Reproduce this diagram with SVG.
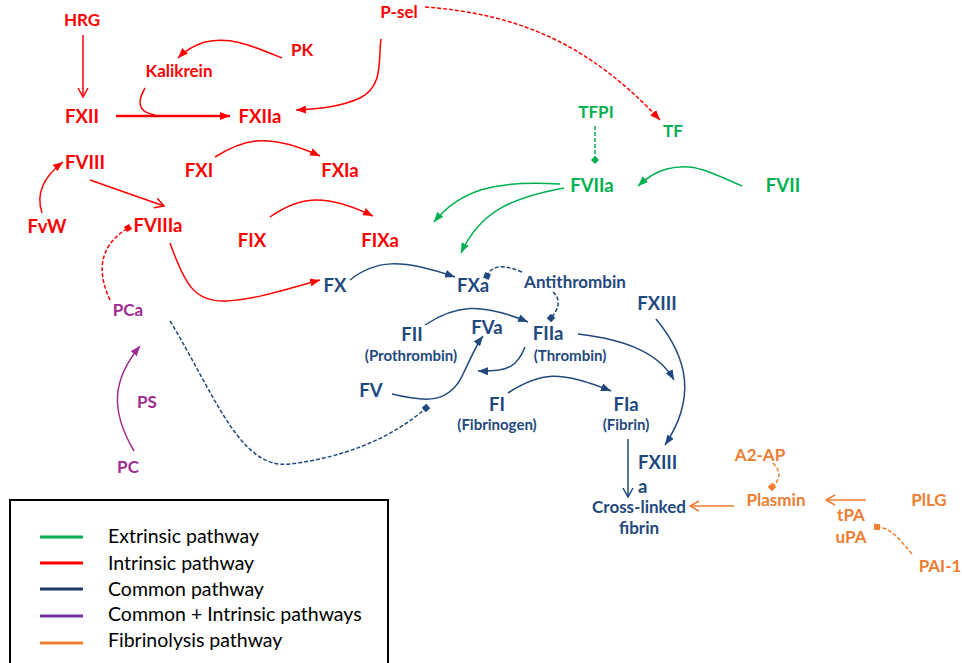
<svg xmlns="http://www.w3.org/2000/svg" width="962" height="663" viewBox="0 0 962 663">
<style>
text{font-family:Lato,"Liberation Sans",sans-serif;font-weight:bold;text-anchor:middle}
.r{fill:#FF0000}.g{fill:#00B050}.b{fill:#1F497D}.p{fill:#A02B93}.o{fill:#ED7D31}
.m{font-size:18.5px}.s{font-size:17px}.t{font-size:15px}
.lr{stroke:#FF0000}.lg{stroke:#00B050}.lb{stroke:#1F497D}.lp{stroke:#A02B93}.lo{stroke:#ED7D31}
#connectors path,#connectors line{fill:none;stroke-width:1.5}
.d{stroke-dasharray:4 2}
.leg text{font-weight:normal;text-anchor:start;font-size:19.5px;fill:#000}
.leg line{stroke-width:3}
</style>
<defs>
<marker id="ar" markerUnits="userSpaceOnUse" markerWidth="10" markerHeight="8" refX="10" refY="4" orient="auto"><path d="M0,0L10,4L0,8z" fill="#FF0000"/></marker>
<marker id="ag" markerUnits="userSpaceOnUse" markerWidth="10" markerHeight="8" refX="10" refY="4" orient="auto"><path d="M0,0L10,4L0,8z" fill="#00B050"/></marker>
<marker id="ab" markerUnits="userSpaceOnUse" markerWidth="10" markerHeight="8" refX="10" refY="4" orient="auto"><path d="M0,0L10,4L0,8z" fill="#1F497D"/></marker>
<marker id="ap" markerUnits="userSpaceOnUse" markerWidth="10" markerHeight="8" refX="10" refY="4" orient="auto"><path d="M0,0L10,4L0,8z" fill="#A02B93"/></marker>
<marker id="or" markerUnits="userSpaceOnUse" markerWidth="12" markerHeight="12" refX="10" refY="6" orient="auto"><path d="M1,1L10,6L1,11" fill="none" stroke="#FF0000" stroke-width="1.5"/></marker>
<marker id="ob" markerUnits="userSpaceOnUse" markerWidth="12" markerHeight="12" refX="10" refY="6" orient="auto"><path d="M1,1L10,6L1,11" fill="none" stroke="#1F497D" stroke-width="1.5"/></marker>
<marker id="oo" markerUnits="userSpaceOnUse" markerWidth="12" markerHeight="12" refX="10" refY="6" orient="auto"><path d="M1,1L10,6L1,11" fill="none" stroke="#ED7D31" stroke-width="1.5"/></marker>
<marker id="sr" markerUnits="userSpaceOnUse" markerWidth="8" markerHeight="8" refX="4" refY="4" orient="auto"><rect x="1" y="1" width="6" height="6" fill="#FF0000"/></marker>
<marker id="sg" markerUnits="userSpaceOnUse" markerWidth="10" markerHeight="10" refX="5" refY="5"><path d="M5,1L9,5L5,9L1,5z" fill="#00B050"/></marker>
<marker id="sb" markerUnits="userSpaceOnUse" markerWidth="8" markerHeight="8" refX="4" refY="4" orient="auto"><rect x="1" y="1" width="6" height="6" fill="#1F497D"/></marker>
<marker id="so" markerUnits="userSpaceOnUse" markerWidth="8" markerHeight="8" refX="4" refY="4" orient="auto"><rect x="1" y="1" width="6" height="6" fill="#ED7D31"/></marker>
</defs>

<g id="connectors">
<!-- intrinsic (red) -->
<line class="lr" x1="83" y1="35" x2="83" y2="97" marker-end="url(#or)"/>
<path class="lr" d="M282,58 C250,45 230,36 205,42 C192,46 185,51 178,58" marker-end="url(#ar)"/>
<path class="lr" d="M116,116 L230,116" style="stroke-width:2.5" marker-end="url(#ar)"/>
<path class="lr" d="M145,88 C138,100 136,112 155,115"/>
<path class="lr" d="M381,39 C378,60 384,86 360,98 C340,107 318,109 296,110" marker-end="url(#ar)"/>
<path class="lr d" d="M425,7 C520,14 590,45 660,120" marker-end="url(#ar)"/>
<path class="lr" d="M42,213 C36,195 42,178 63,162" marker-end="url(#ar)"/>
<line class="lr" x1="90" y1="180" x2="164" y2="206" marker-end="url(#or)"/>
<path class="lr d" d="M110,300 C96,270 100,245 128,228" marker-end="url(#sr)"/>
<path class="lr" d="M215,157 C245,138 270,133 320,156" marker-end="url(#ar)"/>
<path class="lr" d="M270,217 C300,196 325,193 373,216" marker-end="url(#ar)"/>
<path class="lr" d="M170,243 C185,285 195,302 225,301 C255,300 290,288 320,280" marker-end="url(#ar)"/>
<!-- extrinsic (green) -->
<path class="lg d" d="M595,126 L595,160" marker-end="url(#sg)"/>
<path class="lg" d="M742,186 C710,172 695,165 680,167 C662,168 650,175 638,186" marker-end="url(#ag)"/>
<path class="lg" d="M560,184 C495,180 460,190 434,222" marker-end="url(#ag)"/>
<path class="lg" d="M564,188 C510,198 480,212 461,253" marker-end="url(#ag)"/>
<!-- common (blue) -->
<path class="lb" d="M350,280 C375,260 400,258 455,277" marker-end="url(#ab)"/>
<path class="lb d" d="M522,272 C505,265 492,264 487,276" marker-end="url(#sb)"/>
<path class="lb d" d="M553,292 C562,300 558,310 551,318" marker-end="url(#sb)"/>
<path class="lb" d="M425,325 C455,305 480,302 528,322" marker-end="url(#ab)"/>
<path class="lb" d="M525,347 C518,365 510,372 478,371" marker-end="url(#ab)"/>
<path class="lb" d="M392,394 C425,402 450,405 464,372 C470,360 476,345 483,336" marker-end="url(#ab)"/>
<path class="lb d" d="M170,321 C215,395 240,470 290,464 C340,458 390,440 426,408" marker-end="url(#sb)"/>
<path class="lb" d="M508,393 C540,372 560,370 611,391" marker-end="url(#ab)"/>
<path class="lb" d="M578,334 C630,340 660,355 674,380" marker-end="url(#ab)"/>
<path class="lb" d="M656,319 C690,360 695,400 665,445" marker-end="url(#ab)"/>
<line class="lb" x1="628" y1="439" x2="628" y2="497" marker-end="url(#ob)"/>
<!-- fibrinolysis (orange) -->
<line class="lo" x1="734" y1="506" x2="690" y2="506" marker-end="url(#oo)"/>
<line class="lo" x1="866" y1="500" x2="826" y2="500" marker-end="url(#oo)"/>
<path class="lo d" d="M773,463 C782,472 780,480 772,487" marker-end="url(#so)"/>
<path class="lo d" d="M912,554 C900,540 892,528 877,527" marker-end="url(#so)"/>
<!-- purple -->
<path class="lp" d="M134,451 C110,410 112,380 140,346" marker-end="url(#ap)"/>
</g>

<g id="HRG"><text class="r s" x="82" y="26">HRG</text></g>
<g id="PK"><text class="r s" x="302" y="56">PK</text></g>
<g id="Kalikrein"><text class="r s" x="179" y="77">Kalikrein</text></g>
<g id="Psel"><text class="r s" x="399" y="18">P-sel</text></g>
<g id="FXII"><text class="r m" x="82" y="123">FXII</text></g>
<g id="FXIIa"><text class="r m" x="260" y="123">FXIIa</text></g>
<g id="FVIII"><text class="r m" x="85" y="169">FVIII</text></g>
<g id="FXI"><text class="r m" x="199" y="177">FXI</text></g>
<g id="FXIa"><text class="r m" x="340" y="177">FXIa</text></g>
<g id="FvW"><text class="r m" x="47" y="233">FvW</text></g>
<g id="FVIIIa"><text class="r m" x="158" y="232">FVIIIa</text></g>
<g id="FIX"><text class="r m" x="252" y="247">FIX</text></g>
<g id="FIXa"><text class="r m" x="380" y="247">FIXa</text></g>

<g id="TFPI"><text class="g s" x="596" y="118">TFPI</text></g>
<g id="TF"><text class="g s" x="673" y="137">TF</text></g>
<g id="FVIIa"><text class="g m" x="592" y="192">FVIIa</text></g>
<g id="FVII"><text class="g m" x="783" y="192">FVII</text></g>

<g id="FX"><text class="b m" x="335" y="292">FX</text></g>
<g id="FXa"><text class="b m" x="473" y="292">FXa</text></g>
<g id="Antithrombin"><text class="b s" x="575" y="288">Antithrombin</text></g>
<g id="FXIII"><text class="b m" x="657" y="310">FXIII</text></g>
<g id="FII"><text class="b m" x="412" y="341">FII</text><text class="b t" x="411" y="361">(Prothrombin)</text></g>
<g id="FVa"><text class="b m" x="487" y="334">FVa</text></g>
<g id="FIIa"><text class="b m" x="548" y="340">FIIa</text><text class="b t" x="570" y="361">(Thrombin)</text></g>
<g id="FV"><text class="b m" x="371" y="397">FV</text></g>
<g id="FI"><text class="b m" x="497" y="411">FI</text><text class="b t" x="497" y="430">(Fibrinogen)</text></g>
<g id="FIa"><text class="b m" x="626" y="411">FIa</text><text class="b t" x="626" y="430">(Fibrin)</text></g>
<g id="FXIIIa"><text class="b m" x="638" y="469" style="text-anchor:start">FXIII</text><text class="b m" x="638" y="493" style="text-anchor:start">a</text></g>
<g id="Crosslinked"><text class="b s" x="639" y="513">Cross-linked</text><text class="b s" x="639" y="534">fibrin</text></g>

<g id="A2AP"><text class="o s" x="760" y="461">A2-AP</text></g>
<g id="Plasmin"><text class="o s" x="776" y="506">Plasmin</text></g>
<g id="PlLG"><text class="o s" x="929" y="506">PlLG</text></g>
<g id="tPAuPA"><text class="o s" x="851" y="521">tPA</text><text class="o s" x="851" y="543">uPA</text></g>
<g id="PAI1"><text class="o s" x="940" y="572">PAI-1</text></g>

<g id="PCa"><text class="p s" x="128" y="316">PCa</text></g>
<g id="PS"><text class="p s" x="147" y="408">PS</text></g>
<g id="PC"><text class="p s" x="128" y="473">PC</text></g>

<g id="legend" class="leg">
<rect x="10" y="500" width="378" height="170" fill="#fff" stroke="#000" stroke-width="2"/>
<line x1="40" y1="537" x2="83" y2="537" stroke="#00B050"/>
<line x1="40" y1="563" x2="83" y2="563" stroke="#FF0000"/>
<line x1="40" y1="589" x2="83" y2="589" stroke="#1F3864"/>
<line x1="40" y1="616" x2="83" y2="616" stroke="#7030A0"/>
<line x1="40" y1="643" x2="83" y2="643" stroke="#ED7D31"/>
<text x="108" y="543">Extrinsic pathway</text>
<text x="108" y="570">Intrinsic pathway</text>
<text x="108" y="596">Common pathway</text>
<text x="108" y="621">Common + Intrinsic pathways</text>
<text x="108" y="647">Fibrinolysis pathway</text>
</g>
</svg>
